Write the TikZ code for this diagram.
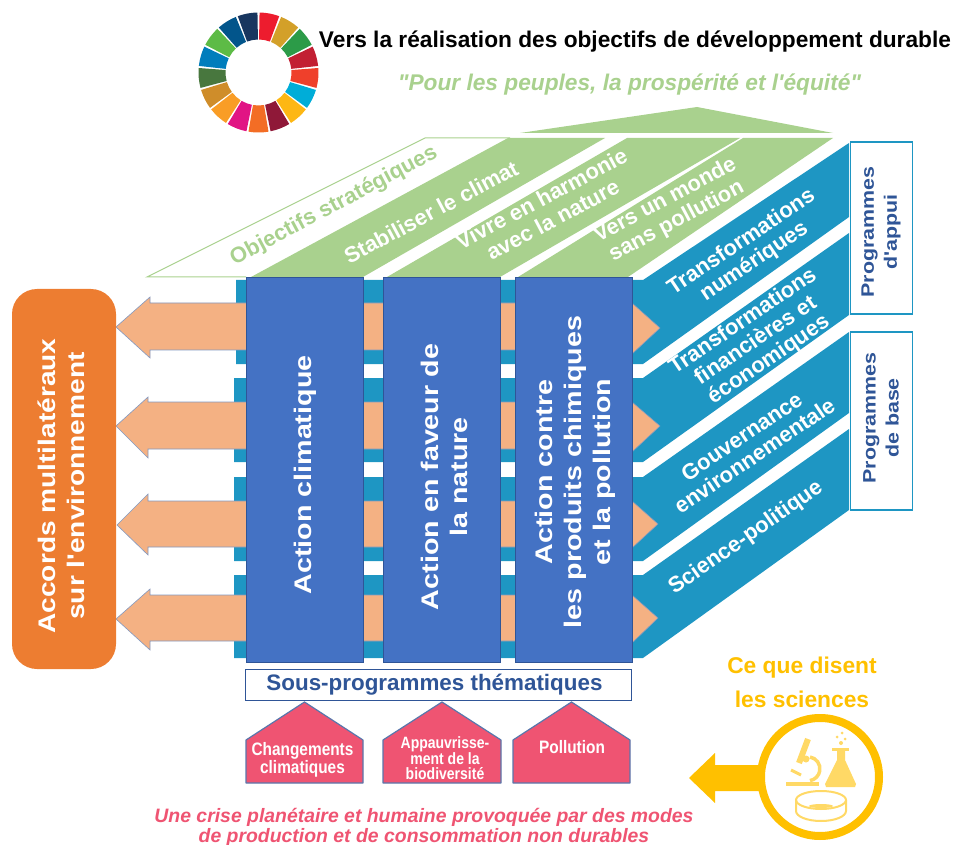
\documentclass[tikz,border=0pt]{standalone}
\usepackage{fontspec}
\setmainfont{Liberation Sans}[Ligatures=TeXOff]
\usetikzlibrary{positioning}

\definecolor{tealband}{HTML}{1E96C3}
\definecolor{peach}{HTML}{F4B183}
\definecolor{columnblue}{HTML}{4472C4}
\definecolor{darkblue}{HTML}{2F5597}
\definecolor{leafgreen}{HTML}{A9D18E}
\definecolor{orangebox}{HTML}{ED7D31}
\definecolor{crisispink}{HTML}{EF5472}
\definecolor{amber}{HTML}{FFC000}
\definecolor{amberlight}{HTML}{FFD966}

\tikzset{
  band/.style={fill=tealband},
  flow/.style={fill=peach, draw=darkblue!60, line width=0.6pt},
  column/.style={draw=darkblue, fill=columnblue, line width=0.8pt, minimum width=117pt, minimum height=385pt},
  columntext/.style={text=white, align=center, rotate=90, xscale=1.195, font=\fontsize{24}{29}\selectfont\bfseries},
  leaf/.style={fill=leafgreen},
  leaftext/.style={align=center, rotate=28, font=\fontsize{22}{24}\selectfont\bfseries, text=white},
  bandtext/.style={align=center, rotate=34, font=\fontsize{22}{23}\selectfont\bfseries, text=white},
  programbox/.style={draw=tealband, fill=white, line width=1.5pt, minimum width=62pt},
  programtext/.style={align=center, rotate=90, xscale=1.19, text=darkblue, font=\fontsize{18}{23}\selectfont\bfseries},
  house/.style={fill=crisispink, draw=darkblue!80, line width=1.2pt, line join=round},
  housetext/.style={align=center, text=white, yscale=1.17, font=\fontsize{15.4}{15}\selectfont\bfseries},
  icon/.style={amberlight, line width=2pt}
}
\newcommand{\wheelpart}[2]{\definecolor{wheelcolour}{HTML}{#2}\fill[wheelcolour, shift={(258.5,-72.5)}] (#1-9.6:33pt) arc[start angle=#1-9.6, end angle=#1+9.6, radius=33pt] -- (#1+9.6:60pt) arc[start angle=#1+9.6, end angle=#1-9.6, radius=60pt] -- cycle;}

\begin{document}
\begin{tikzpicture}[x=1pt, y=1pt]
\useasboundingbox (0, 0) rectangle (954, -845);

        % Goals wheel
        \wheelpart{79.4}{ED1C2E}
        \wheelpart{58.2}{D3A029}
        \wheelpart{37.1}{2C9B48}
        \wheelpart{15.9}{C22033}
        \wheelpart{-5.3}{EF402B}
        \wheelpart{-26.5}{00ADD8}
        \wheelpart{-47.6}{FDB714}
        \wheelpart{-68.8}{8F1838}
        \wheelpart{-90}{F36D25}
        \wheelpart{-111.2}{E11484}
        \wheelpart{-132.4}{F99D26}
        \wheelpart{-153.5}{CF8D2A}
        \wheelpart{-174.7}{48773E}
        \wheelpart{-195.9}{007DBC}
        \wheelpart{-217.1}{5DBB46}
        \wheelpart{-238.2}{02558B}
        \wheelpart{-259.4}{18365F}

        \node[font=\fontsize{22.7}{26}\selectfont\bfseries] at (635, -42) (title) {Vers la réalisation des objectifs de développement durable};
        \node[text=leafgreen, font=\fontsize{22.7}{26}\selectfont\bfseries\itshape] at (629.5, -85) (motto) {"Pour les peuples, la prospérité et l'équité"};

        % Roof and strategic objectives
        \fill[leaf] (520, -133) -- (697, -107) -- (833, -133) -- cycle;
        \draw[leafgreen, line width=1pt] (246, -277) -- (147, -277) -- (425, -138) -- (510, -138);
        \fill[leaf] (251, -277) -- (508, -138) -- (605, -138) -- (363, -277) -- cycle;
        \fill[leaf] (387, -277) -- (627, -138) -- (740, -138) -- (500, -277) -- cycle;
        \fill[leaf] (518, -277) -- (743, -138) -- (833, -138) -- (628, -277) -- cycle;
        \node[leaftext, text=leafgreen] at (334, -206) (objectives) {Objectifs stratégiques};
        \node[leaftext] at (431, -212) (climate) {Stabiliser le climat};
        \node[leaftext] at (547, -209) (nature) {Vivre en harmonie\\avec la nature};
        \node[leaftext] at (671, -211) (world) {Vers un monde\\sans pollution};

        % Programme bands
        \fill[band] (236, -280) -- (643, -280) -- (849, -143) -- (849, -217) -- (643, -364) -- (236, -364) -- cycle;
        \fill[band] (234, -378) -- (643, -378) -- (849, -233) -- (849, -315) -- (643, -462) -- (234, -462) -- cycle;
        \fill[band] (234, -477) -- (643, -477) -- (849, -332) -- (849, -413) -- (643, -561) -- (234, -561) -- cycle;
        \fill[band] (234, -575) -- (643, -575) -- (849, -429) -- (849, -510) -- (643, -658) -- (234, -658) -- cycle;

        % Flows through the columns
        \draw[flow] (116, -327) -- (150, -297) -- (150, -303) -- (632, -303) -- (660, -328) -- (632, -354) -- (632, -350) -- (150, -350) -- (150, -358) -- cycle;
        \draw[flow] (116, -426) -- (148, -397) -- (148, -402) -- (632, -402) -- (660, -426) -- (632, -452) -- (632, -449) -- (148, -449) -- (148, -458) -- cycle;
        \draw[flow] (117, -525) -- (148, -494) -- (148, -501) -- (632, -501) -- (658, -524) -- (632, -548) -- (632, -547) -- (148, -547) -- (148, -555) -- cycle;
        \draw[flow] (116, -619) -- (150, -589) -- (150, -595) -- (632, -595) -- (658, -618) -- (632, -643) -- (632, -641) -- (150, -641) -- (150, -650) -- cycle;

        % Columns
        \node[column] at (304.5, -469.5) (col1) {};
        \node[column] at (441.5, -469.5) (col2) {};
        \node[column] at (573.5, -469.5) (col3) {};
        \node[columntext] at (305, -475) (col1text) {Action climatique};
        \node[columntext] at (444, -477) (col2text) {Action en faveur de\\la nature};
        \node[columntext] at (575, -472) (col3text) {Action contre\\les produits chimiques\\et la pollution};

        \node[fill=orangebox, rounded corners=25pt, minimum width=104pt, minimum height=380pt] at (64, -479) (accords) {};
        \node[columntext, xscale=0.98] at (61, -486) (accordstext) {Accords multilatéraux\\sur l'environnement};

        \node[bandtext] at (748, -252) (digital) {Transformations\\numériques};
        \node[bandtext] at (756, -341) (finance) {Transformations\\financières et\\économiques};
        \node[bandtext] at (748, -446) (governance) {Gouvernance\\environnementale};
        \node[bandtext, rotate=1] at (746, -538) (science) {Science-politique};

        \node[programbox, minimum height=172pt] at (881.5, -228) (support) {};
        \node[programbox, minimum height=178pt] at (881.5, -421) (base) {};
        \node[programtext] at (881, -232) (supporttext) {Programmes\\d'appui};
        \node[programtext] at (881, -418) (basetext) {Programmes\\de base};

        % Thematic subprogrammes
        \node[draw=darkblue, fill=white, line width=1.5pt, minimum width=386pt, minimum height=31pt, text=darkblue, font=\fontsize{22.4}{25}\selectfont\bfseries] at (438.5, -685) (themes) {\hspace*{-8pt}\raisebox{-2pt}{Sous-programmes thématiques}};
        \draw[house] (246, -783) -- (246, -740) -- (304.5, -702) -- (363, -740) -- (363, -783) -- cycle;
        \draw[house] (383, -783) -- (383, -740) -- (442, -702) -- (501, -740) -- (501, -783) -- cycle;
        \draw[house] (513, -783) -- (513, -740) -- (571.5, -702) -- (630, -740) -- (630, -783) -- cycle;
        \node[housetext] at (302.5, -760) (climatechange) {Changements\\climatiques};
        \node[housetext, font=\fontsize{14}{12.5}\selectfont\bfseries] at (445, -758) (biodiversity) {Appauvrisse-\\ment de la\\biodiversité};
        \node[housetext] at (572, -747) (pollution) {Pollution};

        \node[text=crisispink, align=center, font=\fontsize{19.4}{20}\selectfont\bfseries\itshape] at (424, -827) (crisis) {Une crise planétaire et humaine provoquée par des modes\\de production et de consommation non durables};

        % What the sciences say
        \node[text=amber, align=center, font=\fontsize{22.8}{34}\selectfont\bfseries] at (802, -682) (sciences) {Ce que disent\\les sciences};
        \coordinate (arrowstart) at (762, -778);
        \fill[amber] (689, -778) -- (715, -753) -- (715, -765) -- (arrowstart |- 0,-765) -- (arrowstart |- 0,-791) -- (715, -791) -- (715, -803) -- cycle;
        \node[circle, draw=amber, fill=white, line width=8pt, minimum size=118pt, inner sep=0pt] at (820, -777) (lens) {};

        % Microscope
        \fill[amberlight] (786, -782) rectangle (819, -786);
        \draw[icon, line width=6pt] (808, -739) -- (799, -763);
        \draw[icon, line width=3.5pt] (810, -757) arc[start angle=80, end angle=-80, radius=12pt];
        \draw[icon, line width=3pt] (791, -770) -- (801, -775);
        \fill[amberlight] (806, -759) circle (3.5pt);
        % Flask
        \fill[amberlight] (832, -748) rectangle (849, -751);
        \fill[amberlight] (837, -751) -- (845, -751) -- (845, -760) -- (856, -784) -- (855, -787) -- (826, -787) -- (825, -784) -- (837, -760) -- cycle;
        \fill[amberlight] (841, -743) circle (2pt);
        \fill[amberlight] (845, -739) circle (1.5pt);
        \fill[amberlight] (837, -737) circle (1.5pt);
        \fill[amberlight] (842, -733) circle (1.5pt);
        % Dish
        \draw[icon] (821, -800) ellipse [x radius=25pt, y radius=9pt];
        \draw[icon] (796, -800) -- (796, -811) arc[start angle=180, end angle=360, x radius=25pt, y radius=10pt] -- (846, -800);
        \fill[amberlight] (821, -806) ellipse [x radius=12pt, y radius=2pt];
\end{tikzpicture}
\end{document}
